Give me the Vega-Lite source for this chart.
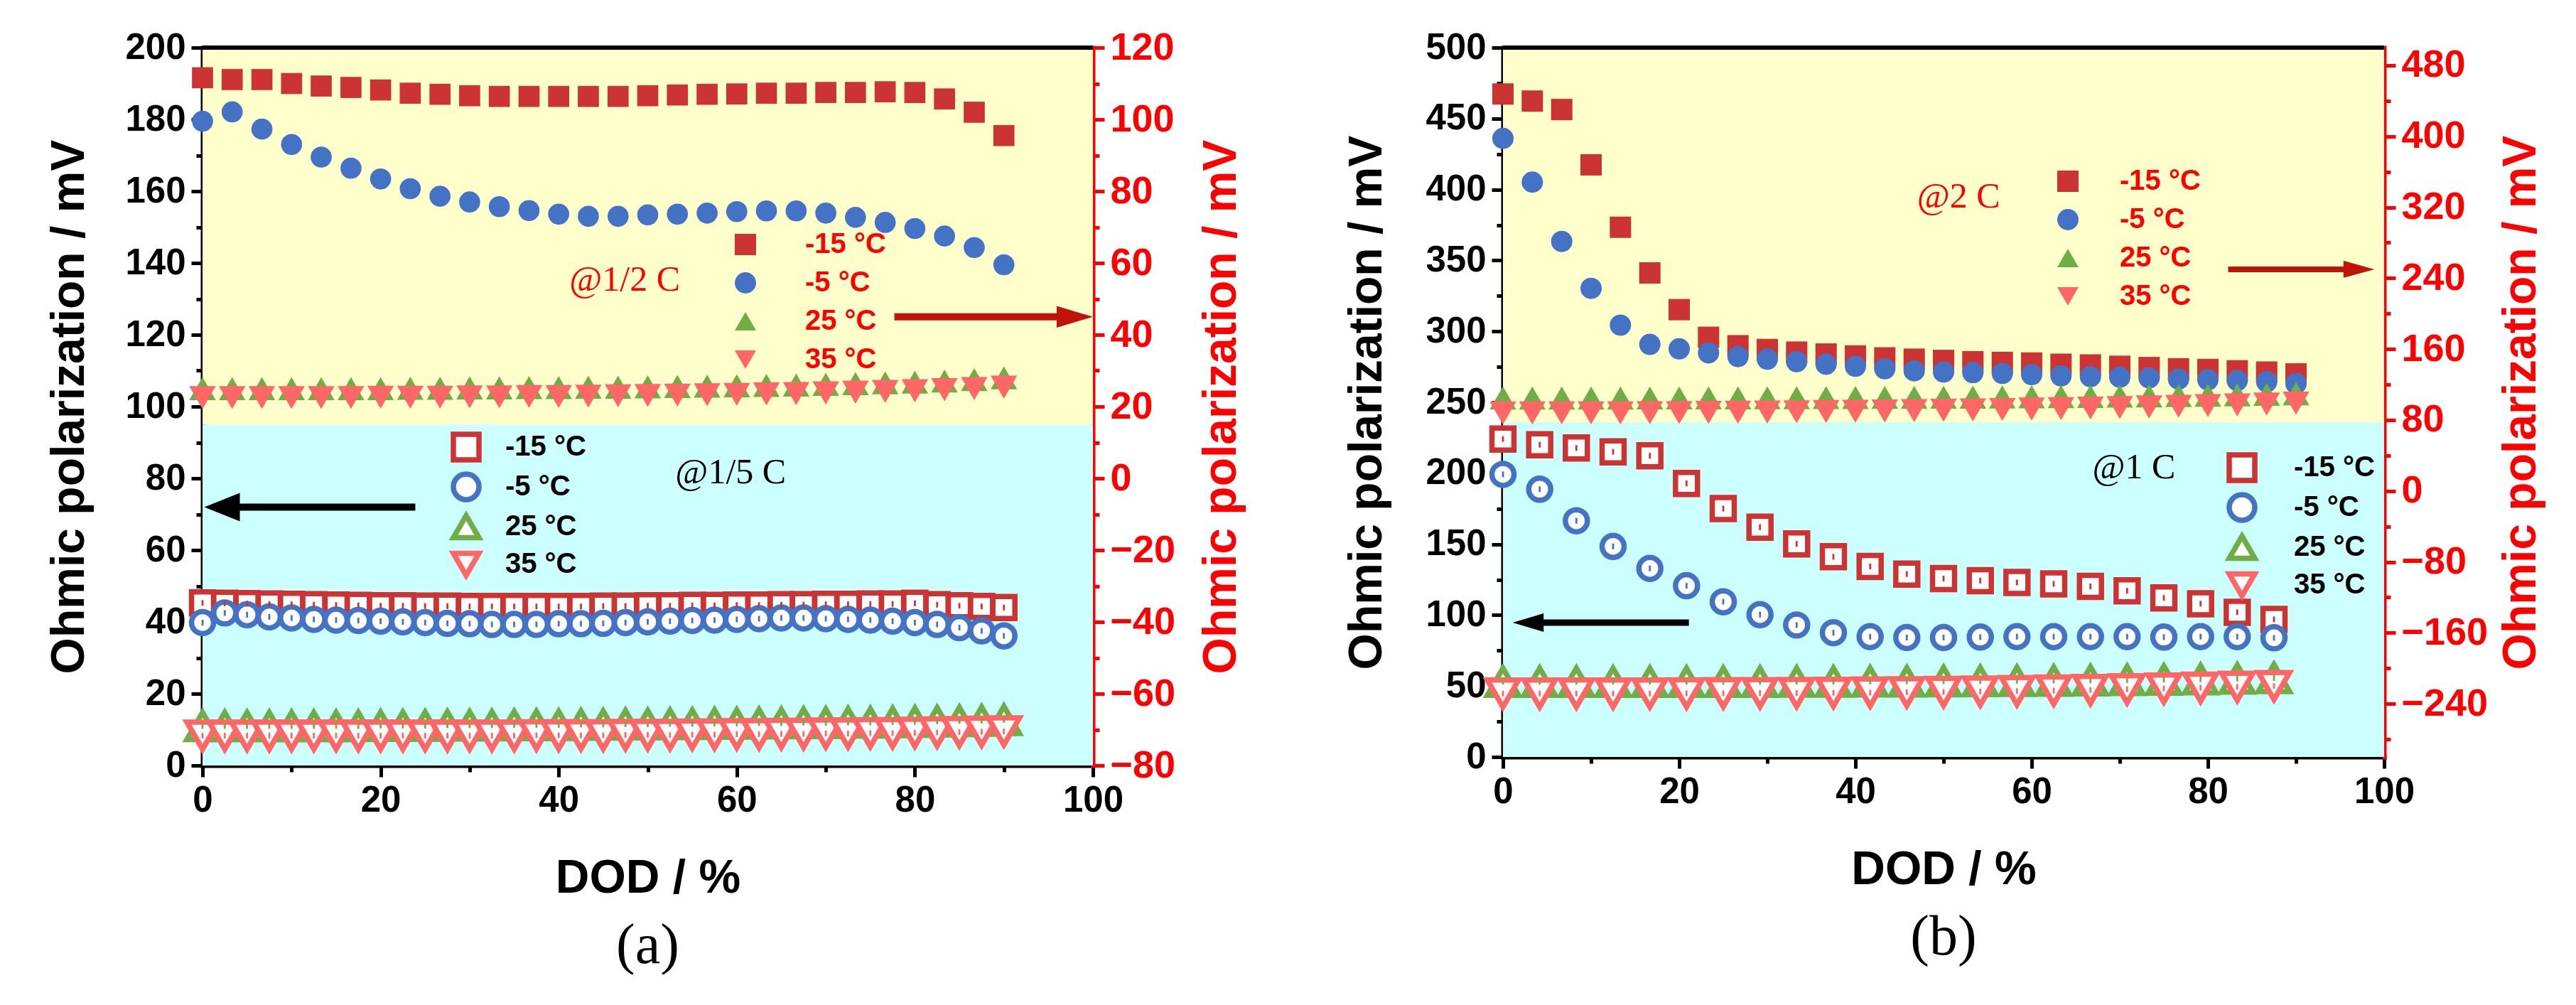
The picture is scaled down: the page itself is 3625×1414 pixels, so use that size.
{
  "$schema": "https://vega.github.io/schema/vega-lite/v6.json",
  "background": "white",
  "padding": {"left": 64, "top": 40, "right": 5, "bottom": 0},
  "spacing": 138,
  "config": {
    "view": {"stroke": null},
    "font": "Liberation Sans",
    "axis": {
      "grid": false, "domainWidth": 6, "domainColor": "black", "domainCap": "square",
      "tickWidth": 5, "tickSize": 16, "tickColor": "black",
      "labelFont": "Liberation Sans", "labelFontWeight": "bold", "labelFontSize": 51, "labelColor": "black",
      "labelPadding": 8, "labelFlush": false, "labelOverlap": false,
      "titleFont": "Liberation Sans", "titleFontWeight": "bold", "titleFontSize": 66, "titleColor": "black",
      "zindex": 1
    }
  },
  "datasets": {
    "a_open": [
      {"dod":0,"mv":45.3,"T":"-15 °C"},{"dod":2.5,"mv":45.2,"T":"-15 °C"},{"dod":5,"mv":45.1,"T":"-15 °C"},{"dod":7.5,"mv":45,"T":"-15 °C"},{"dod":10,"mv":44.9,"T":"-15 °C"},{"dod":12.5,"mv":44.8,"T":"-15 °C"},{"dod":15,"mv":44.7,"T":"-15 °C"},{"dod":17.5,"mv":44.6,"T":"-15 °C"},{"dod":20,"mv":44.5,"T":"-15 °C"},{"dod":22.5,"mv":44.5,"T":"-15 °C"},{"dod":25,"mv":44.4,"T":"-15 °C"},{"dod":27.5,"mv":44.4,"T":"-15 °C"},{"dod":30,"mv":44.3,"T":"-15 °C"},{"dod":32.5,"mv":44.3,"T":"-15 °C"},{"dod":35,"mv":44.3,"T":"-15 °C"},{"dod":37.5,"mv":44.3,"T":"-15 °C"},{"dod":40,"mv":44.3,"T":"-15 °C"},{"dod":42.5,"mv":44.3,"T":"-15 °C"},{"dod":45,"mv":44.4,"T":"-15 °C"},{"dod":47.5,"mv":44.4,"T":"-15 °C"},{"dod":50,"mv":44.5,"T":"-15 °C"},{"dod":52.5,"mv":44.5,"T":"-15 °C"},{"dod":55,"mv":44.6,"T":"-15 °C"},{"dod":57.5,"mv":44.6,"T":"-15 °C"},{"dod":60,"mv":44.7,"T":"-15 °C"},{"dod":62.5,"mv":44.7,"T":"-15 °C"},{"dod":65,"mv":44.8,"T":"-15 °C"},{"dod":67.5,"mv":44.8,"T":"-15 °C"},{"dod":70,"mv":44.9,"T":"-15 °C"},{"dod":72.5,"mv":44.9,"T":"-15 °C"},{"dod":75,"mv":45,"T":"-15 °C"},{"dod":77.5,"mv":45,"T":"-15 °C"},{"dod":80,"mv":45.2,"T":"-15 °C"},{"dod":82.5,"mv":44.8,"T":"-15 °C"},{"dod":85,"mv":44.5,"T":"-15 °C"},{"dod":87.5,"mv":44.3,"T":"-15 °C"},{"dod":90,"mv":44,"T":"-15 °C"},
      {"dod":0,"mv":39.8,"T":"-5 °C"},{"dod":2.5,"mv":42.5,"T":"-5 °C"},{"dod":5,"mv":42,"T":"-5 °C"},{"dod":7.5,"mv":41.4,"T":"-5 °C"},{"dod":10,"mv":41.1,"T":"-5 °C"},{"dod":12.5,"mv":40.7,"T":"-5 °C"},{"dod":15,"mv":40.5,"T":"-5 °C"},{"dod":17.5,"mv":40.4,"T":"-5 °C"},{"dod":20,"mv":40.2,"T":"-5 °C"},{"dod":22.5,"mv":40,"T":"-5 °C"},{"dod":25,"mv":39.8,"T":"-5 °C"},{"dod":27.5,"mv":39.6,"T":"-5 °C"},{"dod":30,"mv":39.5,"T":"-5 °C"},{"dod":32.5,"mv":39.3,"T":"-5 °C"},{"dod":35,"mv":39.3,"T":"-5 °C"},{"dod":37.5,"mv":39.3,"T":"-5 °C"},{"dod":40,"mv":39.5,"T":"-5 °C"},{"dod":42.5,"mv":39.5,"T":"-5 °C"},{"dod":45,"mv":39.6,"T":"-5 °C"},{"dod":47.5,"mv":39.8,"T":"-5 °C"},{"dod":50,"mv":40,"T":"-5 °C"},{"dod":52.5,"mv":40.2,"T":"-5 °C"},{"dod":55,"mv":40.4,"T":"-5 °C"},{"dod":57.5,"mv":40.5,"T":"-5 °C"},{"dod":60,"mv":40.7,"T":"-5 °C"},{"dod":62.5,"mv":40.9,"T":"-5 °C"},{"dod":65,"mv":41.1,"T":"-5 °C"},{"dod":67.5,"mv":41.1,"T":"-5 °C"},{"dod":70,"mv":40.9,"T":"-5 °C"},{"dod":72.5,"mv":40.7,"T":"-5 °C"},{"dod":75,"mv":40.5,"T":"-5 °C"},{"dod":77.5,"mv":40.2,"T":"-5 °C"},{"dod":80,"mv":39.8,"T":"-5 °C"},{"dod":82.5,"mv":39.3,"T":"-5 °C"},{"dod":85,"mv":38.4,"T":"-5 °C"},{"dod":87.5,"mv":37.5,"T":"-5 °C"},{"dod":90,"mv":36.1,"T":"-5 °C"},
      {"dod":0,"mv":11,"T":"25 °C"},{"dod":2.5,"mv":11,"T":"25 °C"},{"dod":5,"mv":11,"T":"25 °C"},{"dod":7.5,"mv":11,"T":"25 °C"},{"dod":10,"mv":11,"T":"25 °C"},{"dod":12.5,"mv":11,"T":"25 °C"},{"dod":15,"mv":11,"T":"25 °C"},{"dod":17.5,"mv":11,"T":"25 °C"},{"dod":20,"mv":11.1,"T":"25 °C"},{"dod":22.5,"mv":11.1,"T":"25 °C"},{"dod":25,"mv":11.1,"T":"25 °C"},{"dod":27.5,"mv":11.2,"T":"25 °C"},{"dod":30,"mv":11.2,"T":"25 °C"},{"dod":32.5,"mv":11.2,"T":"25 °C"},{"dod":35,"mv":11.3,"T":"25 °C"},{"dod":37.5,"mv":11.3,"T":"25 °C"},{"dod":40,"mv":11.3,"T":"25 °C"},{"dod":42.5,"mv":11.4,"T":"25 °C"},{"dod":45,"mv":11.4,"T":"25 °C"},{"dod":47.5,"mv":11.5,"T":"25 °C"},{"dod":50,"mv":11.5,"T":"25 °C"},{"dod":52.5,"mv":11.6,"T":"25 °C"},{"dod":55,"mv":11.6,"T":"25 °C"},{"dod":57.5,"mv":11.7,"T":"25 °C"},{"dod":60,"mv":11.7,"T":"25 °C"},{"dod":62.5,"mv":11.8,"T":"25 °C"},{"dod":65,"mv":11.8,"T":"25 °C"},{"dod":67.5,"mv":11.9,"T":"25 °C"},{"dod":70,"mv":11.9,"T":"25 °C"},{"dod":72.5,"mv":12,"T":"25 °C"},{"dod":75,"mv":12,"T":"25 °C"},{"dod":77.5,"mv":12.1,"T":"25 °C"},{"dod":80,"mv":12.2,"T":"25 °C"},{"dod":82.5,"mv":12.3,"T":"25 °C"},{"dod":85,"mv":12.4,"T":"25 °C"},{"dod":87.5,"mv":12.5,"T":"25 °C"},{"dod":90,"mv":12.7,"T":"25 °C"},
      {"dod":0,"mv":8.3,"T":"35 °C"},{"dod":2.5,"mv":8.3,"T":"35 °C"},{"dod":5,"mv":8.3,"T":"35 °C"},{"dod":7.5,"mv":8.3,"T":"35 °C"},{"dod":10,"mv":8.3,"T":"35 °C"},{"dod":12.5,"mv":8.3,"T":"35 °C"},{"dod":15,"mv":8.3,"T":"35 °C"},{"dod":17.5,"mv":8.3,"T":"35 °C"},{"dod":20,"mv":8.3,"T":"35 °C"},{"dod":22.5,"mv":8.3,"T":"35 °C"},{"dod":25,"mv":8.3,"T":"35 °C"},{"dod":27.5,"mv":8.3,"T":"35 °C"},{"dod":30,"mv":8.3,"T":"35 °C"},{"dod":32.5,"mv":8.3,"T":"35 °C"},{"dod":35,"mv":8.3,"T":"35 °C"},{"dod":37.5,"mv":8.4,"T":"35 °C"},{"dod":40,"mv":8.4,"T":"35 °C"},{"dod":42.5,"mv":8.4,"T":"35 °C"},{"dod":45,"mv":8.4,"T":"35 °C"},{"dod":47.5,"mv":8.5,"T":"35 °C"},{"dod":50,"mv":8.5,"T":"35 °C"},{"dod":52.5,"mv":8.5,"T":"35 °C"},{"dod":55,"mv":8.6,"T":"35 °C"},{"dod":57.5,"mv":8.6,"T":"35 °C"},{"dod":60,"mv":8.7,"T":"35 °C"},{"dod":62.5,"mv":8.7,"T":"35 °C"},{"dod":65,"mv":8.8,"T":"35 °C"},{"dod":67.5,"mv":8.8,"T":"35 °C"},{"dod":70,"mv":8.9,"T":"35 °C"},{"dod":72.5,"mv":8.9,"T":"35 °C"},{"dod":75,"mv":9,"T":"35 °C"},{"dod":77.5,"mv":9,"T":"35 °C"},{"dod":80,"mv":9.1,"T":"35 °C"},{"dod":82.5,"mv":9.2,"T":"35 °C"},{"dod":85,"mv":9.3,"T":"35 °C"},{"dod":87.5,"mv":9.4,"T":"35 °C"},{"dod":90,"mv":9.5,"T":"35 °C"}
    ],
    "a_fill": [
      {"dod":0,"mv":111.6,"T":"-15 °C"},{"dod":3.33,"mv":111.1,"T":"-15 °C"},{"dod":6.67,"mv":111.1,"T":"-15 °C"},{"dod":10,"mv":110,"T":"-15 °C"},{"dod":13.33,"mv":109.3,"T":"-15 °C"},{"dod":16.67,"mv":108.9,"T":"-15 °C"},{"dod":20,"mv":108.2,"T":"-15 °C"},{"dod":23.33,"mv":107.3,"T":"-15 °C"},{"dod":26.67,"mv":107,"T":"-15 °C"},{"dod":30,"mv":106.6,"T":"-15 °C"},{"dod":33.33,"mv":106.4,"T":"-15 °C"},{"dod":36.67,"mv":106.4,"T":"-15 °C"},{"dod":40,"mv":106.4,"T":"-15 °C"},{"dod":43.33,"mv":106.4,"T":"-15 °C"},{"dod":46.67,"mv":106.4,"T":"-15 °C"},{"dod":50,"mv":106.6,"T":"-15 °C"},{"dod":53.33,"mv":106.8,"T":"-15 °C"},{"dod":56.67,"mv":107,"T":"-15 °C"},{"dod":60,"mv":107.1,"T":"-15 °C"},{"dod":63.33,"mv":107.3,"T":"-15 °C"},{"dod":66.67,"mv":107.3,"T":"-15 °C"},{"dod":70,"mv":107.5,"T":"-15 °C"},{"dod":73.33,"mv":107.5,"T":"-15 °C"},{"dod":76.67,"mv":107.7,"T":"-15 °C"},{"dod":80,"mv":107.5,"T":"-15 °C"},{"dod":83.33,"mv":105.7,"T":"-15 °C"},{"dod":86.67,"mv":102,"T":"-15 °C"},{"dod":90,"mv":95.5,"T":"-15 °C"},
      {"dod":0,"mv":99.5,"T":"-5 °C"},{"dod":3.33,"mv":102.1,"T":"-5 °C"},{"dod":6.67,"mv":97.3,"T":"-5 °C"},{"dod":10,"mv":93,"T":"-5 °C"},{"dod":13.33,"mv":89.5,"T":"-5 °C"},{"dod":16.67,"mv":86.4,"T":"-5 °C"},{"dod":20,"mv":83.4,"T":"-5 °C"},{"dod":23.33,"mv":80.7,"T":"-5 °C"},{"dod":26.67,"mv":78.6,"T":"-5 °C"},{"dod":30,"mv":77,"T":"-5 °C"},{"dod":33.33,"mv":75.7,"T":"-5 °C"},{"dod":36.67,"mv":74.6,"T":"-5 °C"},{"dod":40,"mv":73.6,"T":"-5 °C"},{"dod":43.33,"mv":73,"T":"-5 °C"},{"dod":46.67,"mv":73,"T":"-5 °C"},{"dod":50,"mv":73.4,"T":"-5 °C"},{"dod":53.33,"mv":73.6,"T":"-5 °C"},{"dod":56.67,"mv":73.9,"T":"-5 °C"},{"dod":60,"mv":74.3,"T":"-5 °C"},{"dod":63.33,"mv":74.5,"T":"-5 °C"},{"dod":66.67,"mv":74.5,"T":"-5 °C"},{"dod":70,"mv":73.9,"T":"-5 °C"},{"dod":73.33,"mv":72.7,"T":"-5 °C"},{"dod":76.67,"mv":71.3,"T":"-5 °C"},{"dod":80,"mv":69.6,"T":"-5 °C"},{"dod":83.33,"mv":67.5,"T":"-5 °C"},{"dod":86.67,"mv":64.3,"T":"-5 °C"},{"dod":90,"mv":59.5,"T":"-5 °C"},
      {"dod":0,"mv":25,"T":"25 °C"},{"dod":3.33,"mv":25,"T":"25 °C"},{"dod":6.67,"mv":25,"T":"25 °C"},{"dod":10,"mv":25,"T":"25 °C"},{"dod":13.33,"mv":25,"T":"25 °C"},{"dod":16.67,"mv":25,"T":"25 °C"},{"dod":20,"mv":25,"T":"25 °C"},{"dod":23.33,"mv":25.1,"T":"25 °C"},{"dod":26.67,"mv":25.1,"T":"25 °C"},{"dod":30,"mv":25.2,"T":"25 °C"},{"dod":33.33,"mv":25.2,"T":"25 °C"},{"dod":36.67,"mv":25.3,"T":"25 °C"},{"dod":40,"mv":25.3,"T":"25 °C"},{"dod":43.33,"mv":25.4,"T":"25 °C"},{"dod":46.67,"mv":25.4,"T":"25 °C"},{"dod":50,"mv":25.5,"T":"25 °C"},{"dod":53.33,"mv":25.6,"T":"25 °C"},{"dod":56.67,"mv":25.7,"T":"25 °C"},{"dod":60,"mv":25.8,"T":"25 °C"},{"dod":63.33,"mv":25.9,"T":"25 °C"},{"dod":66.67,"mv":26,"T":"25 °C"},{"dod":70,"mv":26.2,"T":"25 °C"},{"dod":73.33,"mv":26.4,"T":"25 °C"},{"dod":76.67,"mv":26.6,"T":"25 °C"},{"dod":80,"mv":26.8,"T":"25 °C"},{"dod":83.33,"mv":27.1,"T":"25 °C"},{"dod":86.67,"mv":27.5,"T":"25 °C"},{"dod":90,"mv":28,"T":"25 °C"},
      {"dod":0,"mv":22.5,"T":"35 °C"},{"dod":3.33,"mv":22.5,"T":"35 °C"},{"dod":6.67,"mv":22.5,"T":"35 °C"},{"dod":10,"mv":22.5,"T":"35 °C"},{"dod":13.33,"mv":22.5,"T":"35 °C"},{"dod":16.67,"mv":22.5,"T":"35 °C"},{"dod":20,"mv":22.6,"T":"35 °C"},{"dod":23.33,"mv":22.6,"T":"35 °C"},{"dod":26.67,"mv":22.6,"T":"35 °C"},{"dod":30,"mv":22.7,"T":"35 °C"},{"dod":33.33,"mv":22.7,"T":"35 °C"},{"dod":36.67,"mv":22.8,"T":"35 °C"},{"dod":40,"mv":22.8,"T":"35 °C"},{"dod":43.33,"mv":22.9,"T":"35 °C"},{"dod":46.67,"mv":23,"T":"35 °C"},{"dod":50,"mv":23.1,"T":"35 °C"},{"dod":53.33,"mv":23.2,"T":"35 °C"},{"dod":56.67,"mv":23.3,"T":"35 °C"},{"dod":60,"mv":23.4,"T":"35 °C"},{"dod":63.33,"mv":23.5,"T":"35 °C"},{"dod":66.67,"mv":23.6,"T":"35 °C"},{"dod":70,"mv":23.8,"T":"35 °C"},{"dod":73.33,"mv":24,"T":"35 °C"},{"dod":76.67,"mv":24.2,"T":"35 °C"},{"dod":80,"mv":24.4,"T":"35 °C"},{"dod":83.33,"mv":24.7,"T":"35 °C"},{"dod":86.67,"mv":25,"T":"35 °C"},{"dod":90,"mv":25.4,"T":"35 °C"}
    ],
    "b_open": [
      {"dod":0,"mv":224.1,"T":"-15 °C"},{"dod":4.17,"mv":220.1,"T":"-15 °C"},{"dod":8.33,"mv":217.8,"T":"-15 °C"},{"dod":12.5,"mv":215.1,"T":"-15 °C"},{"dod":16.67,"mv":212.3,"T":"-15 °C"},{"dod":20.83,"mv":192.8,"T":"-15 °C"},{"dod":25,"mv":175.1,"T":"-15 °C"},{"dod":29.17,"mv":162,"T":"-15 °C"},{"dod":33.33,"mv":150.2,"T":"-15 °C"},{"dod":37.5,"mv":141.1,"T":"-15 °C"},{"dod":41.67,"mv":134.3,"T":"-15 °C"},{"dod":45.83,"mv":128.9,"T":"-15 °C"},{"dod":50,"mv":125.7,"T":"-15 °C"},{"dod":54.17,"mv":124.3,"T":"-15 °C"},{"dod":58.33,"mv":123,"T":"-15 °C"},{"dod":62.5,"mv":122,"T":"-15 °C"},{"dod":66.67,"mv":120.2,"T":"-15 °C"},{"dod":70.83,"mv":117.1,"T":"-15 °C"},{"dod":75,"mv":112.1,"T":"-15 °C"},{"dod":79.17,"mv":108,"T":"-15 °C"},{"dod":83.33,"mv":102,"T":"-15 °C"},{"dod":87.5,"mv":97,"T":"-15 °C"},
      {"dod":0,"mv":199.2,"T":"-5 °C"},{"dod":4.17,"mv":188.7,"T":"-5 °C"},{"dod":8.33,"mv":166.5,"T":"-5 °C"},{"dod":12.5,"mv":148.4,"T":"-5 °C"},{"dod":16.67,"mv":132.9,"T":"-5 °C"},{"dod":20.83,"mv":120.7,"T":"-5 °C"},{"dod":25,"mv":109.4,"T":"-5 °C"},{"dod":29.17,"mv":100.3,"T":"-5 °C"},{"dod":33.33,"mv":93,"T":"-5 °C"},{"dod":37.5,"mv":87.6,"T":"-5 °C"},{"dod":41.67,"mv":84.8,"T":"-5 °C"},{"dod":45.83,"mv":84.2,"T":"-5 °C"},{"dod":50,"mv":84.2,"T":"-5 °C"},{"dod":54.17,"mv":84.5,"T":"-5 °C"},{"dod":58.33,"mv":84.8,"T":"-5 °C"},{"dod":62.5,"mv":84.8,"T":"-5 °C"},{"dod":66.67,"mv":84.8,"T":"-5 °C"},{"dod":70.83,"mv":84.8,"T":"-5 °C"},{"dod":75,"mv":84.5,"T":"-5 °C"},{"dod":79.17,"mv":84.8,"T":"-5 °C"},{"dod":83.33,"mv":84.8,"T":"-5 °C"},{"dod":87.5,"mv":84,"T":"-5 °C"},
      {"dod":0,"mv":53,"T":"25 °C"},{"dod":4.17,"mv":53,"T":"25 °C"},{"dod":8.33,"mv":53,"T":"25 °C"},{"dod":12.5,"mv":53,"T":"25 °C"},{"dod":16.67,"mv":53,"T":"25 °C"},{"dod":20.83,"mv":53,"T":"25 °C"},{"dod":25,"mv":53,"T":"25 °C"},{"dod":29.17,"mv":53,"T":"25 °C"},{"dod":33.33,"mv":53.1,"T":"25 °C"},{"dod":37.5,"mv":53.1,"T":"25 °C"},{"dod":41.67,"mv":53.2,"T":"25 °C"},{"dod":45.83,"mv":53.3,"T":"25 °C"},{"dod":50,"mv":53.4,"T":"25 °C"},{"dod":54.17,"mv":53.5,"T":"25 °C"},{"dod":58.33,"mv":53.6,"T":"25 °C"},{"dod":62.5,"mv":53.8,"T":"25 °C"},{"dod":66.67,"mv":54,"T":"25 °C"},{"dod":70.83,"mv":54.2,"T":"25 °C"},{"dod":75,"mv":54.5,"T":"25 °C"},{"dod":79.17,"mv":54.8,"T":"25 °C"},{"dod":83.33,"mv":55.2,"T":"25 °C"},{"dod":87.5,"mv":55.6,"T":"25 °C"},
      {"dod":0,"mv":44.7,"T":"35 °C"},{"dod":4.17,"mv":44.7,"T":"35 °C"},{"dod":8.33,"mv":44.7,"T":"35 °C"},{"dod":12.5,"mv":44.7,"T":"35 °C"},{"dod":16.67,"mv":44.7,"T":"35 °C"},{"dod":20.83,"mv":44.8,"T":"35 °C"},{"dod":25,"mv":44.9,"T":"35 °C"},{"dod":29.17,"mv":45,"T":"35 °C"},{"dod":33.33,"mv":45.1,"T":"35 °C"},{"dod":37.5,"mv":45.2,"T":"35 °C"},{"dod":41.67,"mv":45.4,"T":"35 °C"},{"dod":45.83,"mv":45.6,"T":"35 °C"},{"dod":50,"mv":45.8,"T":"35 °C"},{"dod":54.17,"mv":46.1,"T":"35 °C"},{"dod":58.33,"mv":46.4,"T":"35 °C"},{"dod":62.5,"mv":46.8,"T":"35 °C"},{"dod":66.67,"mv":47.2,"T":"35 °C"},{"dod":70.83,"mv":47.7,"T":"35 °C"},{"dod":75,"mv":48.2,"T":"35 °C"},{"dod":79.17,"mv":48.8,"T":"35 °C"},{"dod":83.33,"mv":49.4,"T":"35 °C"},{"dod":87.5,"mv":50,"T":"35 °C"}
    ],
    "b_fill": [
      {"dod":0,"mv":447.7,"T":"-15 °C"},{"dod":3.33,"mv":439.7,"T":"-15 °C"},{"dod":6.67,"mv":430.2,"T":"-15 °C"},{"dod":10,"mv":367.8,"T":"-15 °C"},{"dod":13.33,"mv":297.4,"T":"-15 °C"},{"dod":16.67,"mv":245.9,"T":"-15 °C"},{"dod":20,"mv":204.5,"T":"-15 °C"},{"dod":23.33,"mv":173.3,"T":"-15 °C"},{"dod":26.67,"mv":163.8,"T":"-15 °C"},{"dod":30,"mv":159.5,"T":"-15 °C"},{"dod":33.33,"mv":156.6,"T":"-15 °C"},{"dod":36.67,"mv":154.4,"T":"-15 °C"},{"dod":40,"mv":152.3,"T":"-15 °C"},{"dod":43.33,"mv":150.1,"T":"-15 °C"},{"dod":46.67,"mv":148.6,"T":"-15 °C"},{"dod":50,"mv":147.2,"T":"-15 °C"},{"dod":53.33,"mv":145.8,"T":"-15 °C"},{"dod":56.67,"mv":145,"T":"-15 °C"},{"dod":60,"mv":144.3,"T":"-15 °C"},{"dod":63.33,"mv":142.9,"T":"-15 °C"},{"dod":66.67,"mv":142.1,"T":"-15 °C"},{"dod":70,"mv":140.6,"T":"-15 °C"},{"dod":73.33,"mv":139.2,"T":"-15 °C"},{"dod":76.67,"mv":137.8,"T":"-15 °C"},{"dod":80,"mv":137,"T":"-15 °C"},{"dod":83.33,"mv":135.5,"T":"-15 °C"},{"dod":86.67,"mv":134.1,"T":"-15 °C"},{"dod":90,"mv":132,"T":"-15 °C"},
      {"dod":0,"mv":397.6,"T":"-5 °C"},{"dod":3.33,"mv":348.3,"T":"-5 °C"},{"dod":6.67,"mv":281.4,"T":"-5 °C"},{"dod":10,"mv":228.5,"T":"-5 °C"},{"dod":13.33,"mv":187,"T":"-5 °C"},{"dod":16.67,"mv":165.3,"T":"-5 °C"},{"dod":20,"mv":160.3,"T":"-5 °C"},{"dod":23.33,"mv":155.8,"T":"-5 °C"},{"dod":26.67,"mv":151.5,"T":"-5 °C"},{"dod":30,"mv":148.6,"T":"-5 °C"},{"dod":33.33,"mv":145.8,"T":"-5 °C"},{"dod":36.67,"mv":142.9,"T":"-5 °C"},{"dod":40,"mv":140.6,"T":"-5 °C"},{"dod":43.33,"mv":137.8,"T":"-5 °C"},{"dod":46.67,"mv":135.5,"T":"-5 °C"},{"dod":50,"mv":134.1,"T":"-5 °C"},{"dod":53.33,"mv":133.4,"T":"-5 °C"},{"dod":56.67,"mv":132.6,"T":"-5 °C"},{"dod":60,"mv":131.2,"T":"-5 °C"},{"dod":63.33,"mv":129.8,"T":"-5 °C"},{"dod":66.67,"mv":128.9,"T":"-5 °C"},{"dod":70,"mv":128.3,"T":"-5 °C"},{"dod":73.33,"mv":127.5,"T":"-5 °C"},{"dod":76.67,"mv":126.1,"T":"-5 °C"},{"dod":80,"mv":125.4,"T":"-5 °C"},{"dod":83.33,"mv":124.6,"T":"-5 °C"},{"dod":86.67,"mv":123.2,"T":"-5 °C"},{"dod":90,"mv":121.1,"T":"-5 °C"},
      {"dod":0,"mv":104.8,"T":"25 °C"},{"dod":3.33,"mv":104.8,"T":"25 °C"},{"dod":6.67,"mv":104.8,"T":"25 °C"},{"dod":10,"mv":104.8,"T":"25 °C"},{"dod":13.33,"mv":104.8,"T":"25 °C"},{"dod":16.67,"mv":104.9,"T":"25 °C"},{"dod":20,"mv":104.9,"T":"25 °C"},{"dod":23.33,"mv":105,"T":"25 °C"},{"dod":26.67,"mv":105,"T":"25 °C"},{"dod":30,"mv":105.1,"T":"25 °C"},{"dod":33.33,"mv":105.2,"T":"25 °C"},{"dod":36.67,"mv":105.3,"T":"25 °C"},{"dod":40,"mv":105.4,"T":"25 °C"},{"dod":43.33,"mv":105.5,"T":"25 °C"},{"dod":46.67,"mv":105.6,"T":"25 °C"},{"dod":50,"mv":105.7,"T":"25 °C"},{"dod":53.33,"mv":105.8,"T":"25 °C"},{"dod":56.67,"mv":106,"T":"25 °C"},{"dod":60,"mv":106.2,"T":"25 °C"},{"dod":63.33,"mv":106.4,"T":"25 °C"},{"dod":66.67,"mv":106.6,"T":"25 °C"},{"dod":70,"mv":106.9,"T":"25 °C"},{"dod":73.33,"mv":107.2,"T":"25 °C"},{"dod":76.67,"mv":107.5,"T":"25 °C"},{"dod":80,"mv":107.9,"T":"25 °C"},{"dod":83.33,"mv":108.3,"T":"25 °C"},{"dod":86.67,"mv":108.9,"T":"25 °C"},{"dod":90,"mv":109.6,"T":"25 °C"},
      {"dod":0,"mv":88,"T":"35 °C"},{"dod":3.33,"mv":88,"T":"35 °C"},{"dod":6.67,"mv":88,"T":"35 °C"},{"dod":10,"mv":88,"T":"35 °C"},{"dod":13.33,"mv":88,"T":"35 °C"},{"dod":16.67,"mv":88.2,"T":"35 °C"},{"dod":20,"mv":88.4,"T":"35 °C"},{"dod":23.33,"mv":88.6,"T":"35 °C"},{"dod":26.67,"mv":88.8,"T":"35 °C"},{"dod":30,"mv":89,"T":"35 °C"},{"dod":33.33,"mv":89.3,"T":"35 °C"},{"dod":36.67,"mv":89.6,"T":"35 °C"},{"dod":40,"mv":89.9,"T":"35 °C"},{"dod":43.33,"mv":90.2,"T":"35 °C"},{"dod":46.67,"mv":90.6,"T":"35 °C"},{"dod":50,"mv":91,"T":"35 °C"},{"dod":53.33,"mv":91.4,"T":"35 °C"},{"dod":56.67,"mv":91.9,"T":"35 °C"},{"dod":60,"mv":92.4,"T":"35 °C"},{"dod":63.33,"mv":92.9,"T":"35 °C"},{"dod":66.67,"mv":93.5,"T":"35 °C"},{"dod":70,"mv":94.1,"T":"35 °C"},{"dod":73.33,"mv":94.8,"T":"35 °C"},{"dod":76.67,"mv":95.5,"T":"35 °C"},{"dod":80,"mv":96.3,"T":"35 °C"},{"dod":83.33,"mv":97.1,"T":"35 °C"},{"dod":86.67,"mv":98,"T":"35 °C"},{"dod":90,"mv":99,"T":"35 °C"}
    ]
  },
  "resolve": {"scale": {"color": "independent", "fill": "independent", "shape": "independent", "x": "independent", "y": "independent"}},
  "hconcat": [
    {
      "width": 1253,
      "height": 1010,
      "title": {"text": "(a)", "orient": "bottom", "font": "Liberation Serif", "fontSize": 80, "fontWeight": "normal", "color": "black", "offset": 24},
      "resolve": {"scale": {"y": "independent", "color": "independent", "shape": "independent"}},
      "layer": [
        {
          "resolve": {"axis": {"x": "independent", "y": "independent"}},
          "layer": [
            {
              "layer": [
                {
                  "data": {"values": [{"dod": 0, "dod2": 100, "mv": 95, "mv2": 200}]},
                  "mark": {"type": "rect", "color": "#FFFFCC"},
                  "encoding": {
                    "x": {"field": "dod", "type": "quantitative", "scale": {"domain": [0, 100], "nice": false, "zero": false},
                          "axis": {"title": "DOD / %", "orient": "bottom", "values": [0, 20, 40, 60, 80, 100], "titlePadding": 52}},
                    "x2": {"field": "dod2"},
                    "y": {"field": "mv", "type": "quantitative", "scale": {"domain": [0, 200], "nice": false, "zero": false},
                          "axis": {"title": "Ohmic polarization / mV", "orient": "left", "values": [0, 20, 40, 60, 80, 100, 120, 140, 160, 180, 200], "titlePadding": 44}},
                    "y2": {"field": "mv2"}
                  }
                },
                {
                  "data": {"values": [{"dod": 0, "dod2": 100, "mv": 0, "mv2": 95}]},
                  "mark": {"type": "rect", "color": "#CCFFFF"},
                  "encoding": {
                    "x": {"field": "dod", "type": "quantitative", "scale": {"domain": [0, 100]}},
                    "x2": {"field": "dod2"},
                    "y": {"field": "mv", "type": "quantitative", "scale": {"domain": [0, 200]}},
                    "y2": {"field": "mv2"}
                  }
                },
                {
                  "data": {"values": [{"dod": 0, "dod2": 100, "mv": 200}]},
                  "mark": {"type": "rule", "color": "black", "strokeWidth": 6},
                  "encoding": {
                    "x": {"field": "dod", "type": "quantitative", "scale": {"domain": [0, 100]}},
                    "x2": {"field": "dod2"},
                    "y": {"field": "mv", "type": "quantitative", "scale": {"domain": [0, 200]}}
                  }
                },
                {
                  "data": {"name": "a_open"},
                  "encoding": {
                    "x": {"field": "dod", "type": "quantitative", "scale": {"domain": [0, 100]}},
                    "y": {"field": "mv", "type": "quantitative", "scale": {"domain": [0, 200]}},
                    "color": {"field": "T", "type": "nominal",
                      "scale": {"domain": ["-15 °C", "-5 °C", "25 °C", "35 °C"], "range": ["#CC3333", "#4472C4", "#70AD47", "#FF6666"]},
                      "legend": {"title": null, "orient": "none", "legendX": 349, "legendY": 540, "padding": 0, "labelFont": "Liberation Sans", "labelFontWeight": "bold", "labelFontSize": 40, "labelColor": "black", "symbolSize": 1300, "symbolStrokeWidth": 7.5, "labelOffset": 33, "rowPadding": -15, "encode": {"symbols": {"update": {"fill": {"value": "white"}, "size": {"value": 1300}}}}}},
                    "shape": {"field": "T", "type": "nominal",
                      "scale": {"domain": ["-15 °C", "-5 °C", "25 °C", "35 °C"], "range": ["square", "circle", "triangle-up", "triangle-down"]},
                      "legend": {"title": null, "orient": "none", "legendX": 349, "legendY": 540, "padding": 0, "labelFont": "Liberation Sans", "labelFontWeight": "bold", "labelFontSize": 40, "labelColor": "black", "symbolSize": 1300, "symbolStrokeWidth": 7.5, "labelOffset": 33, "rowPadding": -15, "encode": {"symbols": {"update": {"fill": {"value": "white"}, "size": {"value": 1300}}}}}}
                  },
                  "layer": [
                    {"transform": [{"filter": "datum.T === '-15 °C' || datum.T === '-5 °C'"}],
                     "mark": {"type": "point", "filled": false, "fill": "white", "strokeWidth": 7.5, "opacity": 1, "size": 960}},
                    {"transform": [{"filter": "datum.T === '25 °C' || datum.T === '35 °C'"}],
                     "mark": {"type": "point", "filled": false, "fill": "white", "strokeWidth": 7.5, "opacity": 1, "size": 1936}}
                  ]
                },
                {
                  "data": {"name": "a_open"},
                  "mark": {"type": "point", "filled": true, "shape": "M-0.35,-1H0.35V1H-0.35Z", "size": 64, "strokeWidth": 0, "opacity": 1},
                  "encoding": {
                    "x": {"field": "dod", "type": "quantitative", "scale": {"domain": [0, 100]}},
                    "y": {"field": "mv", "type": "quantitative", "scale": {"domain": [0, 200]}},
                    "fill": {"field": "T", "type": "nominal",
                      "scale": {"domain": ["-15 °C", "-5 °C", "25 °C", "35 °C"], "range": ["#CC3333", "#4472C4", "#70AD47", "#FF6666"]}, "legend": null}
                  }
                },
                {
                  "data": {"values": [{"dod": 23.9, "dod2": 2.5, "mv": 72}]},
                  "mark": {"type": "rule", "color": "black", "strokeWidth": 10},
                  "encoding": {
                    "x": {"field": "dod", "type": "quantitative", "scale": {"domain": [0, 100]}},
                    "x2": {"field": "dod2"},
                    "y": {"field": "mv", "type": "quantitative", "scale": {"domain": [0, 200]}}
                  }
                },
                {
                  "data": {"values": [{"dod": 0.2, "mv": 72}]},
                  "mark": {"type": "point", "shape": "M0,0L2,-0.8L2,0.8Z", "size": 2500, "filled": true, "color": "black", "strokeWidth": 0, "opacity": 1},
                  "encoding": {
                    "x": {"field": "dod", "type": "quantitative", "scale": {"domain": [0, 100]}},
                    "y": {"field": "mv", "type": "quantitative", "scale": {"domain": [0, 200]}}
                  }
                },
                {
                  "data": {"values": [{"dod": 41.2, "mv": 132.3, "label": "@1/2 C"}]},
                  "mark": {"type": "text", "font": "Liberation Serif", "fontSize": 50, "color": "#FF0000", "align": "left", "baseline": "alphabetic"},
                  "encoding": {
                    "x": {"field": "dod", "type": "quantitative", "scale": {"domain": [0, 100]}},
                    "y": {"field": "mv", "type": "quantitative", "scale": {"domain": [0, 200]}},
                    "text": {"field": "label"}
                  }
                },
                {
                  "data": {"values": [{"dod": 53.1, "mv": 78.6, "label": "@1/5 C"}]},
                  "mark": {"type": "text", "font": "Liberation Serif", "fontSize": 50, "color": "black", "align": "left", "baseline": "alphabetic"},
                  "encoding": {
                    "x": {"field": "dod", "type": "quantitative", "scale": {"domain": [0, 100]}},
                    "y": {"field": "mv", "type": "quantitative", "scale": {"domain": [0, 200]}},
                    "text": {"field": "label"}
                  }
                }
              ]
            },
            {
              "data": {"values": [{"dod": 0, "mv": 0}]},
              "mark": {"type": "point", "opacity": 0},
              "encoding": {
                "x": {"field": "dod", "type": "quantitative", "scale": {"domain": [0, 100]},
                      "axis": {"orient": "bottom", "values": [10, 30, 50, 70, 90], "labels": false, "domain": false, "title": null, "tickSize": 9}},
                "y": {"field": "mv", "type": "quantitative", "scale": {"domain": [0, 200]},
                      "axis": {"orient": "left", "values": [10, 30, 50, 70, 90, 110, 130, 150, 170, 190], "labels": false, "domain": false, "title": null, "tickSize": 9}}
              }
            }
          ]
        },
        {
          "resolve": {"axis": {"y": "independent"}},
          "layer": [
            {
              "layer": [
                {
                  "data": {"name": "a_fill"},
                  "encoding": {
                    "x": {"field": "dod", "type": "quantitative", "scale": {"domain": [0, 100]}, "axis": null},
                    "y": {"field": "mv", "type": "quantitative", "scale": {"domain": [-80, 120], "nice": false, "zero": false},
                          "axis": {"orient": "right", "title": "Ohmic polarization / mV", "values": [-80, -60, -40, -20, 0, 20, 40, 60, 80, 100, 120],
                                   "domainColor": "#FF0000", "tickColor": "#FF0000", "labelColor": "#FF0000", "titleColor": "#FF0000",
                                   "labelFontSize": 54, "titleAngle": 270, "titleBaseline": "top", "titlePadding": 33}},
                    "color": {"field": "T", "type": "nominal",
                      "scale": {"domain": ["-15 °C", "-5 °C", "25 °C", "35 °C"], "range": ["#CC3333", "#4472C4", "#70AD47", "#FF6666"]},
                      "legend": {"title": null, "orient": "none", "legendX": 744, "legendY": 257, "padding": 0, "labelFont": "Liberation Sans", "labelFontWeight": "bold", "labelFontSize": 40, "labelColor": "#FF0000", "symbolSize": 900, "labelOffset": 64, "rowPadding": 14}},
                    "shape": {"field": "T", "type": "nominal",
                      "scale": {"domain": ["-15 °C", "-5 °C", "25 °C", "35 °C"], "range": ["square", "circle", "triangle-up", "triangle-down"]},
                      "legend": {"title": null, "orient": "none", "legendX": 744, "legendY": 257, "padding": 0, "labelFont": "Liberation Sans", "labelFontWeight": "bold", "labelFontSize": 40, "labelColor": "#FF0000", "symbolSize": 900, "labelOffset": 64, "rowPadding": 14}}
                  },
                  "layer": [
                    {"transform": [{"filter": "datum.T === '-15 °C' || datum.T === '-5 °C'"}],
                     "mark": {"type": "point", "filled": true, "strokeWidth": 0, "opacity": 1, "size": 880}},
                    {"transform": [{"filter": "datum.T === '25 °C' || datum.T === '35 °C'"}],
                     "mark": {"type": "point", "filled": true, "strokeWidth": 0, "opacity": 1, "size": 1400}}
                  ]
                },
                {
                  "data": {"values": [{"dod": 77.7, "dod2": 97, "mv": 45}]},
                  "mark": {"type": "rule", "color": "#C0140A", "strokeWidth": 10},
                  "encoding": {
                    "x": {"field": "dod", "type": "quantitative", "scale": {"domain": [0, 100]}, "axis": null},
                    "x2": {"field": "dod2"},
                    "y": {"field": "mv", "type": "quantitative", "scale": {"domain": [-80, 120]}}
                  }
                },
                {
                  "data": {"values": [{"dod": 100, "mv": 45}]},
                  "mark": {"type": "point", "shape": "M0,0L-2,-0.6L-2,0.6Z", "size": 2600, "filled": true, "color": "#C0140A", "strokeWidth": 0, "opacity": 1},
                  "encoding": {
                    "x": {"field": "dod", "type": "quantitative", "scale": {"domain": [0, 100]}, "axis": null},
                    "y": {"field": "mv", "type": "quantitative", "scale": {"domain": [-80, 120]}}
                  }
                }
              ]
            },
            {
              "data": {"values": [{"dod": 0, "mv": 0}]},
              "mark": {"type": "point", "opacity": 0},
              "encoding": {
                "x": {"field": "dod", "type": "quantitative", "scale": {"domain": [0, 100]}, "axis": null},
                "y": {"field": "mv", "type": "quantitative", "scale": {"domain": [-80, 120]},
                      "axis": {"orient": "right", "values": [-70, -50, -30, -10, 10, 30, 50, 70, 90, 110], "labels": false, "domain": false, "title": null, "tickSize": 9, "tickColor": "#FF0000"}}
              }
            }
          ]
        }
      ]
    },
    {
      "width": 1240,
      "height": 998,
      "title": {"text": "(b)", "orient": "bottom", "font": "Liberation Serif", "fontSize": 80, "fontWeight": "normal", "color": "black", "offset": 24},
      "resolve": {"scale": {"y": "independent", "color": "independent", "shape": "independent"}},
      "layer": [
        {
          "resolve": {"axis": {"x": "independent", "y": "independent"}},
          "layer": [
            {
              "layer": [
                {
                  "data": {"values": [{"dod": 0, "dod2": 100, "mv": 236, "mv2": 500}]},
                  "mark": {"type": "rect", "color": "#FFFFCC"},
                  "encoding": {
                    "x": {"field": "dod", "type": "quantitative", "scale": {"domain": [0, 100], "nice": false, "zero": false},
                          "axis": {"title": "DOD / %", "orient": "bottom", "values": [0, 20, 40, 60, 80, 100], "titlePadding": 52}},
                    "x2": {"field": "dod2"},
                    "y": {"field": "mv", "type": "quantitative", "scale": {"domain": [0, 500], "nice": false, "zero": false},
                          "axis": {"title": "Ohmic polarization / mV", "orient": "left", "values": [0, 50, 100, 150, 200, 250, 300, 350, 400, 450, 500], "titlePadding": 48}},
                    "y2": {"field": "mv2"}
                  }
                },
                {
                  "data": {"values": [{"dod": 0, "dod2": 100, "mv": 0, "mv2": 236}]},
                  "mark": {"type": "rect", "color": "#CCFFFF"},
                  "encoding": {
                    "x": {"field": "dod", "type": "quantitative", "scale": {"domain": [0, 100]}},
                    "x2": {"field": "dod2"},
                    "y": {"field": "mv", "type": "quantitative", "scale": {"domain": [0, 500]}},
                    "y2": {"field": "mv2"}
                  }
                },
                {
                  "data": {"values": [{"dod": 0, "dod2": 100, "mv": 500}]},
                  "mark": {"type": "rule", "color": "black", "strokeWidth": 6},
                  "encoding": {
                    "x": {"field": "dod", "type": "quantitative", "scale": {"domain": [0, 100]}},
                    "x2": {"field": "dod2"},
                    "y": {"field": "mv", "type": "quantitative", "scale": {"domain": [0, 500]}}
                  }
                },
                {
                  "data": {"name": "b_open"},
                  "encoding": {
                    "x": {"field": "dod", "type": "quantitative", "scale": {"domain": [0, 100]}},
                    "y": {"field": "mv", "type": "quantitative", "scale": {"domain": [0, 500]}},
                    "color": {"field": "T", "type": "nominal",
                      "scale": {"domain": ["-15 °C", "-5 °C", "25 °C", "35 °C"], "range": ["#CC3333", "#4472C4", "#70AD47", "#FF6666"]},
                      "legend": {"title": null, "orient": "none", "legendX": 1018, "legendY": 569, "padding": 0, "labelFont": "Liberation Sans", "labelFontWeight": "bold", "labelFontSize": 40, "labelColor": "black", "symbolSize": 1300, "symbolStrokeWidth": 7.5, "labelOffset": 51, "rowPadding": -15, "encode": {"symbols": {"update": {"fill": {"value": "white"}, "size": {"value": 1300}}}}}},
                    "shape": {"field": "T", "type": "nominal",
                      "scale": {"domain": ["-15 °C", "-5 °C", "25 °C", "35 °C"], "range": ["square", "circle", "triangle-up", "triangle-down"]},
                      "legend": {"title": null, "orient": "none", "legendX": 1018, "legendY": 569, "padding": 0, "labelFont": "Liberation Sans", "labelFontWeight": "bold", "labelFontSize": 40, "labelColor": "black", "symbolSize": 1300, "symbolStrokeWidth": 7.5, "labelOffset": 51, "rowPadding": -15, "encode": {"symbols": {"update": {"fill": {"value": "white"}, "size": {"value": 1300}}}}}}
                  },
                  "layer": [
                    {"transform": [{"filter": "datum.T === '-15 °C' || datum.T === '-5 °C'"}],
                     "mark": {"type": "point", "filled": false, "fill": "white", "strokeWidth": 7.5, "opacity": 1, "size": 960}},
                    {"transform": [{"filter": "datum.T === '25 °C' || datum.T === '35 °C'"}],
                     "mark": {"type": "point", "filled": false, "fill": "white", "strokeWidth": 7.5, "opacity": 1, "size": 1936}}
                  ]
                },
                {
                  "data": {"name": "b_open"},
                  "mark": {"type": "point", "filled": true, "shape": "M-0.35,-1H0.35V1H-0.35Z", "size": 64, "strokeWidth": 0, "opacity": 1},
                  "encoding": {
                    "x": {"field": "dod", "type": "quantitative", "scale": {"domain": [0, 100]}},
                    "y": {"field": "mv", "type": "quantitative", "scale": {"domain": [0, 500]}},
                    "fill": {"field": "T", "type": "nominal",
                      "scale": {"domain": ["-15 °C", "-5 °C", "25 °C", "35 °C"], "range": ["#CC3333", "#4472C4", "#70AD47", "#FF6666"]}, "legend": null}
                  }
                },
                {
                  "data": {"values": [{"dod": 21.1, "dod2": 4.5, "mv": 94.7}]},
                  "mark": {"type": "rule", "color": "black", "strokeWidth": 9},
                  "encoding": {
                    "x": {"field": "dod", "type": "quantitative", "scale": {"domain": [0, 100]}},
                    "x2": {"field": "dod2"},
                    "y": {"field": "mv", "type": "quantitative", "scale": {"domain": [0, 500]}}
                  }
                },
                {
                  "data": {"values": [{"dod": 1.1, "mv": 94.7}]},
                  "mark": {"type": "point", "shape": "M0,0L2,-0.6L2,0.6Z", "size": 1900, "filled": true, "color": "black", "strokeWidth": 0, "opacity": 1},
                  "encoding": {
                    "x": {"field": "dod", "type": "quantitative", "scale": {"domain": [0, 100]}},
                    "y": {"field": "mv", "type": "quantitative", "scale": {"domain": [0, 500]}}
                  }
                },
                {
                  "data": {"values": [{"dod": 47, "mv": 387.3, "label": "@2 C"}]},
                  "mark": {"type": "text", "font": "Liberation Serif", "fontSize": 50, "color": "#FF0000", "align": "left", "baseline": "alphabetic"},
                  "encoding": {
                    "x": {"field": "dod", "type": "quantitative", "scale": {"domain": [0, 100]}},
                    "y": {"field": "mv", "type": "quantitative", "scale": {"domain": [0, 500]}},
                    "text": {"field": "label"}
                  }
                },
                {
                  "data": {"values": [{"dod": 66.9, "mv": 196.4, "label": "@1 C"}]},
                  "mark": {"type": "text", "font": "Liberation Serif", "fontSize": 50, "color": "black", "align": "left", "baseline": "alphabetic"},
                  "encoding": {
                    "x": {"field": "dod", "type": "quantitative", "scale": {"domain": [0, 100]}},
                    "y": {"field": "mv", "type": "quantitative", "scale": {"domain": [0, 500]}},
                    "text": {"field": "label"}
                  }
                }
              ]
            },
            {
              "data": {"values": [{"dod": 0, "mv": 0}]},
              "mark": {"type": "point", "opacity": 0},
              "encoding": {
                "x": {"field": "dod", "type": "quantitative", "scale": {"domain": [0, 100]},
                      "axis": {"orient": "bottom", "values": [10, 30, 50, 70, 90], "labels": false, "domain": false, "title": null, "tickSize": 9}},
                "y": {"field": "mv", "type": "quantitative", "scale": {"domain": [0, 500]},
                      "axis": {"orient": "left", "values": [25, 75, 125, 175, 225, 275, 325, 375, 425, 475], "labels": false, "domain": false, "title": null, "tickSize": 9}}
              }
            }
          ]
        },
        {
          "resolve": {"axis": {"y": "independent"}},
          "layer": [
            {
              "layer": [
                {
                  "data": {"name": "b_fill"},
                  "encoding": {
                    "x": {"field": "dod", "type": "quantitative", "scale": {"domain": [0, 100]}, "axis": null},
                    "y": {"field": "mv", "type": "quantitative", "scale": {"domain": [-300, 500], "nice": false, "zero": false},
                          "axis": {"orient": "right", "title": "Ohmic polarization / mV", "values": [-240, -160, -80, 0, 80, 160, 240, 320, 400, 480],
                                   "domainColor": "#FF0000", "tickColor": "#FF0000", "labelColor": "#FF0000", "titleColor": "#FF0000",
                                   "labelFontSize": 54, "titleAngle": 270, "titleBaseline": "top", "titlePadding": 15}},
                    "color": {"field": "T", "type": "nominal",
                      "scale": {"domain": ["-15 °C", "-5 °C", "25 °C", "35 °C"], "range": ["#CC3333", "#4472C4", "#70AD47", "#FF6666"]},
                      "legend": {"title": null, "orient": "none", "legendX": 775, "legendY": 168, "padding": 0, "labelFont": "Liberation Sans", "labelFontWeight": "bold", "labelFontSize": 40, "labelColor": "#FF0000", "symbolSize": 900, "labelOffset": 53, "rowPadding": 14}},
                    "shape": {"field": "T", "type": "nominal",
                      "scale": {"domain": ["-15 °C", "-5 °C", "25 °C", "35 °C"], "range": ["square", "circle", "triangle-up", "triangle-down"]},
                      "legend": {"title": null, "orient": "none", "legendX": 775, "legendY": 168, "padding": 0, "labelFont": "Liberation Sans", "labelFontWeight": "bold", "labelFontSize": 40, "labelColor": "#FF0000", "symbolSize": 900, "labelOffset": 53, "rowPadding": 14}}
                  },
                  "layer": [
                    {"transform": [{"filter": "datum.T === '-15 °C' || datum.T === '-5 °C'"}],
                     "mark": {"type": "point", "filled": true, "strokeWidth": 0, "opacity": 1, "size": 900}},
                    {"transform": [{"filter": "datum.T === '25 °C' || datum.T === '35 °C'"}],
                     "mark": {"type": "point", "filled": true, "strokeWidth": 0, "opacity": 1, "size": 1400}}
                  ]
                },
                {
                  "data": {"values": [{"dod": 82.3, "dod2": 96, "mv": 250}]},
                  "mark": {"type": "rule", "color": "#C0140A", "strokeWidth": 8},
                  "encoding": {
                    "x": {"field": "dod", "type": "quantitative", "scale": {"domain": [0, 100]}, "axis": null},
                    "x2": {"field": "dod2"},
                    "y": {"field": "mv", "type": "quantitative", "scale": {"domain": [-300, 500]}}
                  }
                },
                {
                  "data": {"values": [{"dod": 98.9, "mv": 250}]},
                  "mark": {"type": "point", "shape": "M0,0L-2,-0.55L-2,0.55Z", "size": 1900, "filled": true, "color": "#C0140A", "strokeWidth": 0, "opacity": 1},
                  "encoding": {
                    "x": {"field": "dod", "type": "quantitative", "scale": {"domain": [0, 100]}, "axis": null},
                    "y": {"field": "mv", "type": "quantitative", "scale": {"domain": [-300, 500]}}
                  }
                }
              ]
            },
            {
              "data": {"values": [{"dod": 0, "mv": 0}]},
              "mark": {"type": "point", "opacity": 0},
              "encoding": {
                "x": {"field": "dod", "type": "quantitative", "scale": {"domain": [0, 100]}, "axis": null},
                "y": {"field": "mv", "type": "quantitative", "scale": {"domain": [-300, 500]},
                      "axis": {"orient": "right", "values": [-280, -200, -120, -40, 40, 120, 200, 280, 360, 440], "labels": false, "domain": false, "title": null, "tickSize": 9, "tickColor": "#FF0000"}}
              }
            }
          ]
        }
      ]
    }
  ]
}
